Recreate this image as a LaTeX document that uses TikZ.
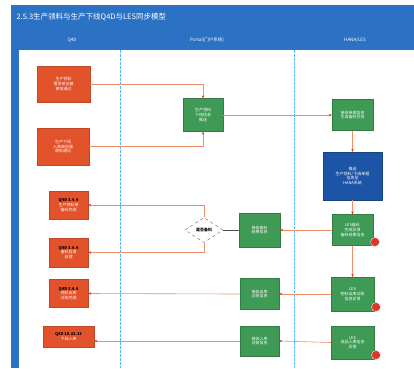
\documentclass[tikz,border=0pt]{standalone}
\usepackage{fontspec}
\setmainfont{Noto Sans CJK SC}
\usetikzlibrary{shapes.geometric,arrows.meta}
\definecolor{titleblue}{HTML}{2C72C4}
\definecolor{redbox}{HTML}{E2532B}
\definecolor{greenbox}{HTML}{3E9A55}
\definecolor{darkbox}{HTML}{1D55A6}
\definecolor{lineor}{HTML}{EE8F68}
\definecolor{tipred}{HTML}{E0352A}
\definecolor{lanebl}{HTML}{62B3E8}
\tikzset{
  x=1pt,y=-1pt,
  tiny/.style={font=\fontsize{4}{4.8}\selectfont},
  rbox/.style={fill=redbox,draw=redbox!85!black,line width=0.3pt,text=white,tiny,align=center,inner sep=1pt},
  gbox/.style={fill=greenbox,draw=greenbox!80!black,line width=0.3pt,text=white,tiny,align=center,inner sep=1pt},
  bbox/.style={fill=darkbox,draw=darkbox!80!black,line width=0.3pt,text=white,tiny,align=center,inner sep=1pt},
  conn/.style={draw=lineor,line width=0.6pt,-{Stealth[length=3pt,width=2.6pt,color=tipred]}},
  plainconn/.style={draw=black!70,line width=0.6pt},
  badge/.style={circle,fill=tipred,draw=white,line width=0.3pt,minimum size=9pt,inner sep=0pt},
  lane/.style={draw=lanebl,line width=0.7pt,dash pattern=on 3pt off 1pt},
}
\begin{document}
\begin{tikzpicture}
\useasboundingbox (0,0) rectangle (414,368);
\fill[white] (0,0) rectangle (414,368);
% frame
\fill[titleblue] (11,5) rectangle (414,50);
\fill[titleblue] (11,50) rectangle (19,368);
\node[anchor=west,text=white,font=\fontsize{7.5}{8}\selectfont] (title) at (13,17) {2.5.3生产领料与生产下线Q4D与LES同步模型};
\node[text=white,font=\fontsize{4.5}{5}\selectfont] (h1) at (72,40) {Q4D};
\node[text=white,font=\fontsize{4.5}{5}\selectfont] (h2) at (207,40) {Portal(门户系统)};
\node[text=white,font=\fontsize{4.5}{5}\selectfont] (h3) at (355,40) {HANA/LES};
% lanes
\draw[lane] (120,50) -- (120,368);
\draw[lane] (294,50) -- (294,368);
% left lane
\node[rbox,minimum width=53pt,minimum height=36pt] (R1) at (63.5,84) {生产领料\\需求单创建\\审批通过};
\node[rbox,minimum width=52pt,minimum height=37pt] (R2) at (63,146.5) {生产下线\\入库单创建\\审批通过};
\node[rbox,minimum width=39pt,minimum height=28pt] (R3) at (68.5,205) {\textcolor{black}{\textbf{Q4D 3.4.4}}\\生产领料单\\备料完成};
\node[rbox,minimum width=39pt,minimum height=29pt] (R4) at (68.5,252.5) {\textcolor{black}{\textbf{Q4D 3.4.4}}\\备料异常\\处理};
\node[rbox,minimum width=39pt,minimum height=28pt] (R5) at (68.5,293.5) {\textcolor{black}{\textbf{Q4D 3.4.4}}\\领料出库\\过账完成};
\node[rbox,minimum width=51pt,minimum height=21pt] (R6) at (68.5,336.5) {\textcolor{black}{\textbf{Q4D 18.22.13}}\\下线入库};
% middle lane
\node[gbox,minimum width=40pt,minimum height=33pt] (G1) at (203,115) {生产领料\\下线信息\\推送};
\node[diamond,draw=black!60,dashed,fill=white,line width=0.4pt,minimum width=38pt,minimum height=25pt,inner sep=0pt,font=\fontsize{4}{4.8}\selectfont\bfseries] (D) at (204,230) {是否备料};
\node[gbox,minimum width=41pt,minimum height=34pt] (G2) at (259.5,230) {接收备料\\结果信息};
\node[gbox,minimum width=39pt,minimum height=31pt] (G3) at (259.5,294) {接收出库\\过账信息};
\node[gbox,minimum width=39pt,minimum height=30pt] (G4) at (259.5,341) {接收入库\\过账信息};
% right lane
\node[gbox,minimum width=41pt,minimum height=31pt] (G5) at (352.5,115) {接收单据信息\\生成备料任务};
\node[bbox,minimum width=59pt,minimum height=48pt] (B) at (352.5,176) {推送\\生产领料/下线单据\\信息至\\HANA系统};
\node[gbox,minimum width=41pt,minimum height=31pt] (G6) at (352.5,230) {LES备料\\完成反馈\\备料结果信息};
\node[gbox,minimum width=43pt,minimum height=34pt] (G7) at (352.5,294) {LES\\物料出库过账\\信息反馈};
\node[gbox,minimum width=43pt,minimum height=33pt] (G8) at (352.5,342.5) {LES\\成品入库信息\\反馈};
\node[badge] (b1) at (375,242) {};
\node[badge] (b2) at (376,307) {};
\node[badge] (b3) at (376,355) {};
% connectors
\draw[conn] (R1.east) -| (G1.north);
\draw[conn] (R2.east) -| (G1.south);
\draw[conn] (G1.east) -- (G5.west);
\draw[conn] (G5.south) -- (B.north);
\draw[conn] (B.south) -- (G6.north);
\draw[conn] (G6.west) -- (G2.east);
\draw[plainconn] (G2.west) -- (D.east);
\draw[conn] (D.north) |- (R3.east);
\draw[conn] (D.south) |- (R4.east);
\draw[conn] (G6.south) -- (G7.north);
\draw[conn] (G7.west) -- (G3.east);
\draw[conn] (G3.west) -- (R5.east);
\draw[conn] (G8.west) -- (G4.east);
\draw[conn] (G4.west) -- (G4.west -| R6.east);
\end{tikzpicture}
\end{document}
